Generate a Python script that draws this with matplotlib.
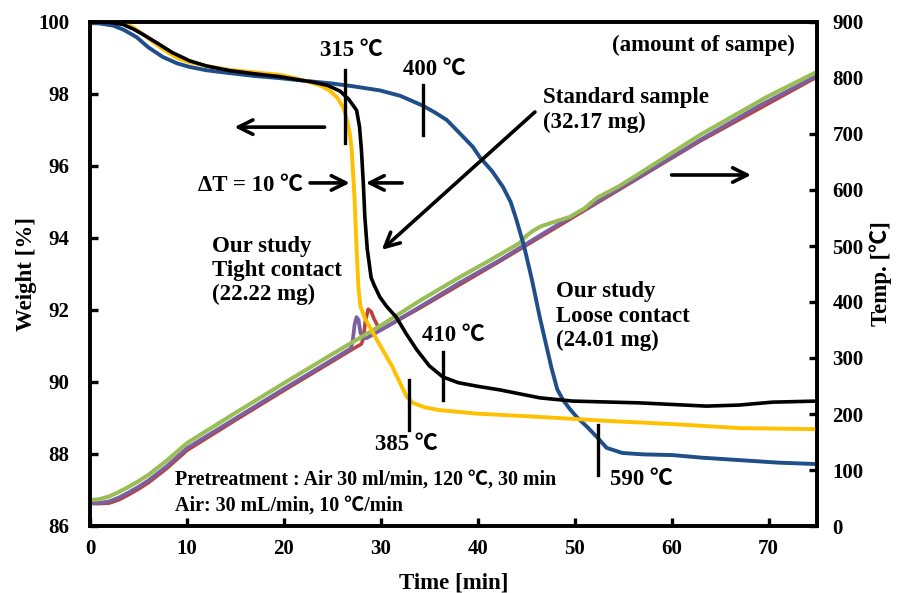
import matplotlib
matplotlib.use("Agg")
import matplotlib.pyplot as plt

plt.rcParams['font.family'] = ['Liberation Serif', 'Noto Sans CJK JP', 'DejaVu Sans']
plt.rcParams['font.weight'] = 'bold'

# ---- weight curves (time [min], weight [%]) ----
std_t = [0, 2, 3.4, 4.5, 5.5, 6.9, 8.5, 10.3, 12, 14.4, 17, 19.6, 23, 24.5, 25.8, 26.7,
         27.5, 27.8, 28.0, 28.2, 28.35, 28.6, 29.0, 29.3, 29.9, 30.6, 31.6, 32.6, 33.7,
         35, 36.4, 38, 40, 42.3, 46.4, 49.8, 56.7, 63.6, 67, 70.4, 75]
std_w = [100, 99.99, 99.93, 99.8, 99.65, 99.42, 99.15, 98.92, 98.78, 98.65, 98.56, 98.48,
         98.33, 98.24, 98.08, 97.85, 97.55, 97.1, 96.45, 95.5, 94.6, 93.7, 92.9, 92.7,
         92.36, 92.1, 91.8, 91.35, 90.9, 90.45, 90.14, 89.98, 89.88, 89.78, 89.56, 89.47,
         89.42, 89.33, 89.36, 89.44, 89.47]

tight_t = [0, 2, 3.4, 4.1, 5, 6, 7.5, 9, 10.3, 12, 14.4, 17, 19.6, 21, 22.7, 23.8, 24.7,
           25.5, 26.1, 26.5, 26.8, 27.0, 27.3, 27.5, 27.7, 27.9, 28.4, 29.6, 31.2, 32.2,
           32.7, 33.3, 34.5, 36, 40, 46.4, 53.3, 60.1, 67, 75]
tight_w = [100, 100, 99.97, 99.9, 99.75, 99.55, 99.25, 99.0, 98.88, 98.78, 98.67, 98.6,
           98.53, 98.45, 98.33, 98.23, 98.1, 97.9, 97.64, 97.3, 96.9, 96.45, 95.05, 93.7,
           92.6, 92.1, 91.75, 91.17, 90.42, 89.85, 89.58, 89.42, 89.3, 89.22, 89.12, 89.03,
           88.92, 88.83, 88.72, 88.69]

loose_t = [0, 1, 2.4, 3.5, 4.8, 6, 7.5, 9, 10.3, 12, 14.4, 17, 19.6, 22, 24.7, 27, 29.9,
           32, 34.3, 35.5, 36.8, 38, 39.5, 40.2, 41.5, 42.6, 43.4, 44, 44.8, 45.6, 46.4,
           47.0, 47.6, 48.2, 48.8, 49.5, 50.2, 51.3, 52.3, 53.3, 54.9, 57, 60.1, 63, 67,
           71, 75]
loose_w = [99.97, 99.96, 99.9, 99.78, 99.58, 99.3, 99.03, 98.85, 98.75, 98.66, 98.58, 98.5,
           98.44, 98.37, 98.3, 98.22, 98.1, 97.95, 97.68, 97.5, 97.28, 96.95, 96.53, 96.25,
           95.85, 95.42, 95.0, 94.5, 93.75, 92.83, 91.8, 91.1, 90.4, 89.8, 89.5, 89.25,
           89.03, 88.75, 88.47, 88.17, 88.03, 87.99, 87.97, 87.9, 87.83, 87.76, 87.72]

# ---- temperature curves (time [min], temperature [degC]) ----
tempA_t = [0, 1, 2, 3, 4, 5, 6, 8, 10, 15, 20, 25, 26.9, 27.1, 27.3, 27.5, 27.7, 27.9,
           28.2, 28.6, 30, 34, 38, 42.3, 47, 52.6, 57, 62.9, 69, 75]
tempA_T = [41, 41, 44, 51, 60, 70, 81, 108, 139, 192, 245, 297, 317, 330, 360, 373, 368,
           345, 335, 336, 350, 391, 433, 475, 525, 582, 627, 689, 750, 804]

tempB_t = [0, 1, 2, 3, 4, 5, 6, 8, 10, 15, 20, 25, 27, 28, 28.2, 28.4, 28.7, 29.0, 29.3,
           29.6, 30, 34, 42.3, 52.6, 62.9, 75]
tempB_T = [40, 40, 41, 47, 56, 66, 77, 104, 135, 189, 242, 294, 315, 325, 335, 365, 387,
           383, 370, 360, 350, 389, 473, 580, 687, 802]

tempC_t = [0, 1, 2, 3, 4, 5, 6, 8, 10, 15, 20, 25, 30, 34, 38, 41, 43, 44.3, 45.0, 45.7,
           46.5, 47.7, 49.5, 51, 52.3, 54.6, 56, 62.9, 69.8, 75]
tempC_T = [46, 48, 53, 61, 70, 80, 91, 118, 148, 202, 255, 307, 358, 402, 443, 472, 492,
           505, 518, 527, 535, 542, 552, 567, 586, 607, 622, 698, 766, 811]

x_ticks = [0, 10, 20, 30, 40, 50, 60, 70]
w_ticks = [86, 88, 90, 92, 94, 96, 98, 100]
T_ticks = [0, 100, 200, 300, 400, 500, 600, 700, 800, 900]

BLACK = '#000000'
YELLOW = '#FFC000'
BLUE = '#1F4E8A'
PURPLE = '#7B5FA0'
RED = '#B8433F'
GREEN = '#98BE55'

fig = plt.figure(figsize=(9.04, 5.93), dpi=100)
ax = fig.add_axes([90 / 904, 1 - 526 / 593, 727 / 904, 504 / 593])
ax2 = ax.twinx()

# temperature on the secondary axis, drawn beneath the weight traces
ax2.plot(tempB_t, tempB_T, color=RED, lw=2.6, solid_capstyle='butt')
ax2.plot(tempA_t, tempA_T, color=PURPLE, lw=2.7, solid_capstyle='butt')
ax2.plot(tempC_t, tempC_T, color=GREEN, lw=2.9, solid_capstyle='butt')
ax2.set_ylim(0, 900)
ax2.set_yticks(T_ticks)

ax.set_zorder(ax2.get_zorder() + 1)
ax.patch.set_visible(False)

ax.plot(loose_t, loose_w, color=BLUE, lw=2.8)
ax.plot(tight_t, tight_w, color=YELLOW, lw=2.8)
ax.plot(std_t, std_w, color=BLACK, lw=2.6)

ax.set_xlim(0, 75)
ax.set_ylim(86, 100)
ax.set_xticks(x_ticks)
ax.set_yticks(w_ticks)

for a in (ax, ax2):
    for s in a.spines.values():
        s.set_linewidth(2.6)
    a.tick_params(direction='in', length=6, width=2.4, labelsize=15)
ax.tick_params(axis='y', pad=15)
ax.tick_params(axis='x', pad=9)
ax2.tick_params(axis='y', pad=11)

ax.set_xlabel('Time [min]', fontsize=16.5, fontweight='bold', labelpad=10)
ax.set_ylabel('Weight [%]', fontsize=16.5, fontweight='bold', labelpad=1)
ax2.set_ylabel('Temp. [℃]', fontsize=16.5, fontweight='bold', labelpad=4)

# temperature markers on the weight curves
marks = [(26.3, 98.67, 96.64), (34.4, 98.25, 96.86), (36.4, 90.83, 89.5),
         (32.9, 90.06, 88.67), (52.4, 88.81, 87.42)]
for mt, y0, y1 in marks:
    ax.plot([mt, mt], [y0, y1], color='black', lw=2.4)

arrow = dict(arrowstyle='->', lw=2.6, color='black', mutation_scale=26,
             shrinkA=0, shrinkB=0)
ax.annotate('', xy=(14.9, 97.08), xytext=(24.2, 97.08), arrowprops=arrow)
ax.annotate('', xy=(26.8, 95.53), xytext=(22.7, 95.53), arrowprops=arrow)
ax.annotate('', xy=(28.45, 95.53), xytext=(32.2, 95.53), arrowprops=arrow)
ax.annotate('', xy=(68.2, 95.75), xytext=(60.0, 95.75), arrowprops=arrow)
ax.annotate('', xy=(30.1, 93.67), xytext=(45.9, 97.5), arrowprops=arrow)

fs = 16.5
def label(x, y, s, size=fs):
    ax.text(x, y, s, fontsize=size, fontweight='bold', ha='left', va='center',
            linespacing=1.2)

label(23.7, 99.22, '315 ℃')
label(32.3, 98.67, '400 ℃')
label(53.9, 99.36, '(amount of sampe)')
label(46.7, 97.55, 'Standard sample\n(32.17 mg)')
label(11.1, 95.47, 'ΔT = 10 ℃')
label(12.6, 93.1, 'Our study\nTight contact\n(22.22 mg)')
label(48.1, 91.83, 'Our study\nLoose contact\n(24.01 mg)')
label(34.2, 91.3, '410 ℃')
label(29.4, 88.25, '385 ℃')
label(53.6, 87.28, '590 ℃')
label(8.8, 87.28, 'Pretreatment : Air 30 ml/min, 120 ℃, 30 min', 14.4)
label(8.8, 86.58, 'Air: 30 mL/min, 10 ℃/min', 14.4)

fig.savefig('out.png', dpi=100)
